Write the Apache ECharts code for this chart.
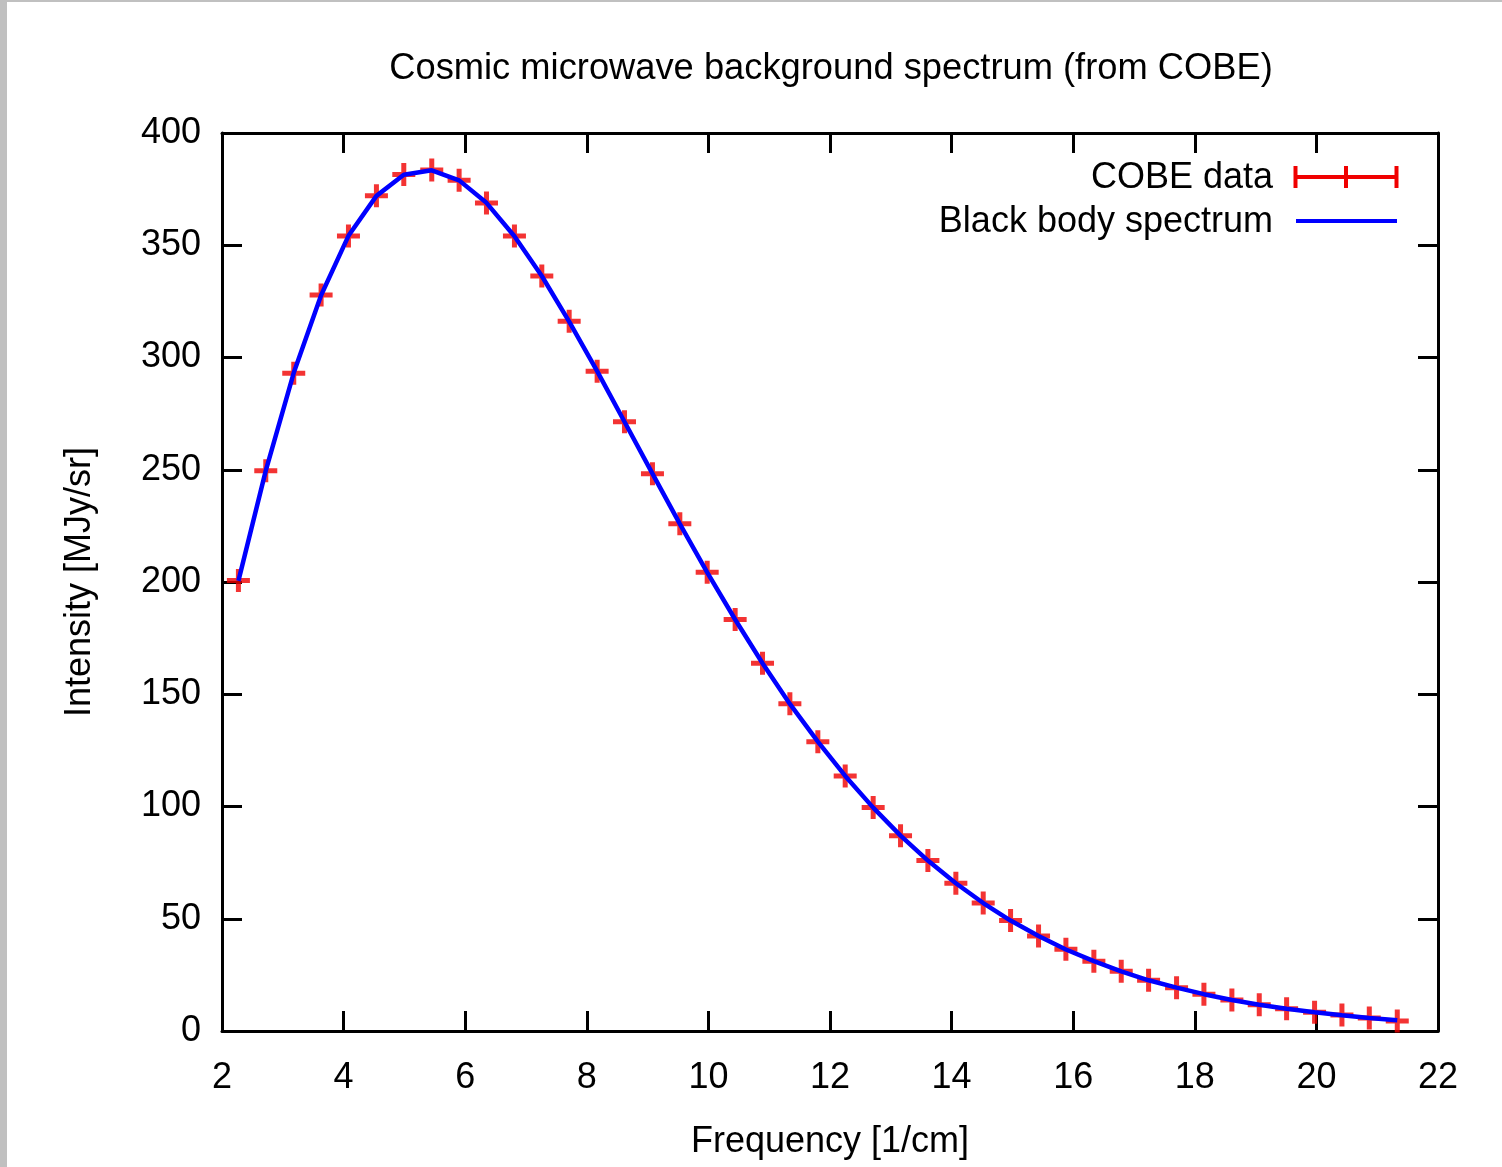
<!DOCTYPE html>
<html>
<head>
<meta charset="utf-8">
<script src="https://cdn.jsdelivr.net/npm/echarts@6/dist/echarts.min.js"></script>
<style>
html,body{margin:0;padding:0;background:#fff;}
#chart{width:1502px;height:1167px;}
</style>
</head>
<body>
<div id="chart"></div>
<script>
// Data
const frequency = [2.27, 2.72, 3.18, 3.63, 4.08, 4.54, 4.99, 5.45, 5.90, 6.35, 6.81, 7.26, 7.71, 8.17, 8.62, 9.08, 9.53, 9.98, 10.44, 10.89, 11.34, 11.80, 12.25, 12.71, 13.16, 13.61, 14.07, 14.52, 14.97, 15.43, 15.88, 16.34, 16.79, 17.24, 17.70, 18.15, 18.61, 19.06, 19.51, 19.97, 20.42, 20.87, 21.33];
const cobeIntensity = [200.7, 249.5, 293.0, 327.8, 354.1, 372.1, 381.5, 383.5, 378.9, 368.8, 354.1, 336.3, 316.1, 293.9, 271.4, 248.2, 225.9, 204.3, 183.3, 163.8, 145.8, 128.8, 113.6, 99.5, 87.0, 75.9, 65.8, 57.0, 49.2, 42.3, 36.4, 31.1, 26.6, 22.6, 19.3, 16.4, 13.8, 11.7, 9.9, 8.4, 7.1, 5.8, 4.5];
const blackbodyIntensity = [200.5, 249.6, 293.2, 327.7, 354.2, 372.0, 381.4, 383.4, 378.9, 368.9, 354.0, 336.3, 316.0, 293.9, 271.4, 248.3, 225.9, 204.3, 183.3, 163.8, 145.7, 128.9, 113.6, 99.5, 87.0, 75.9, 65.8, 57.0, 49.2, 42.3, 36.3, 31.1, 26.6, 22.6, 19.3, 16.4, 13.8, 11.7, 9.9, 8.4, 7.0, 5.8, 4.8];
const xTicks = {min: 2, max: 22, interval: 2};
const yTicks = {min: 0, max: 400, interval: 50};

const FONT = '"Liberation Sans", Arial, sans-serif';
const cobeSeries = frequency.map((f, i) => [f, cobeIntensity[i]]);
const bbSeries = frequency.map((f, i) => [f, blackbodyIntensity[i]]);

const plusPath = 'path://M9,0h5v9h9v5h-9v9h-5v-9h-9v-5h9z';

const axisCommon = {
  type: 'value',
  axisLine: {show: true, onZero: false, lineStyle: {color: '#000', width: 3}},
  axisTick: {show: true, inside: true, length: 20, lineStyle: {color: '#000', width: 3}},
  splitLine: {show: false},
};

const chart = echarts.init(document.getElementById('chart'), null, {renderer: 'canvas'});
chart.setOption({
  animation: false,
  backgroundColor: '#fff',
  title: {
    text: 'Cosmic microwave background spectrum (from COBE)',
    left: 826, top: 46, textAlign: 'center',
    textStyle: {fontFamily: FONT, fontSize: 36.3, fontWeight: 'normal', color: '#000'}
  },
  grid: {left: 222, right: 64, top: 133, bottom: 136, containLabel: false},
  xAxis: [
    Object.assign({}, axisCommon, {
      position: 'bottom', min: xTicks.min, max: xTicks.max, interval: xTicks.interval,
      name: 'Frequency [1/cm]', nameLocation: 'middle', nameGap: 93,
      nameTextStyle: {fontFamily: FONT, fontSize: 36, color: '#000'},
      axisLabel: {fontFamily: FONT, fontSize: 36, color: '#000', margin: 29}
    }),
    Object.assign({}, axisCommon, {
      position: 'top', min: xTicks.min, max: xTicks.max, interval: xTicks.interval,
      axisLabel: {show: false}
    })
  ],
  yAxis: [
    Object.assign({}, axisCommon, {
      position: 'left', min: yTicks.min, max: yTicks.max, interval: yTicks.interval,
      name: 'Intensity [MJy/sr]', nameLocation: 'middle', nameGap: 124,
      nameTextStyle: {fontFamily: FONT, fontSize: 36, color: '#000'},
      axisLabel: {fontFamily: FONT, fontSize: 36, color: '#000', margin: 21, padding: [3, 0, 0, 0]}
    }),
    Object.assign({}, axisCommon, {
      position: 'right', min: yTicks.min, max: yTicks.max, interval: yTicks.interval,
      axisLabel: {show: false}
    })
  ],
  series: [
    {
      name: 'COBE data', type: 'scatter', xAxisIndex: 0, yAxisIndex: 0,
      data: cobeSeries, symbol: plusPath, symbolSize: 23,
      itemStyle: {color: '#f00000'}, z: 2
    },
    {
      name: 'Black body spectrum', type: 'line', xAxisIndex: 0, yAxisIndex: 0,
      data: bbSeries, showSymbol: false, symbol: 'none', smooth: false,
      lineStyle: {color: '#0000ff', width: 4.5}, z: 3
    }
  ],
  graphic: [
    {type: 'rect', shape: {x: 0, y: 0, width: 7, height: 1167}, style: {fill: '#c0c0c0'}, z: 100},
    {type: 'rect', shape: {x: 0, y: 0, width: 1502, height: 2}, style: {fill: '#c0c0c0'}, z: 100},
    {type: 'text', x: 1273, y: 178, style: {text: 'COBE data', font: '36px ' + FONT, fill: '#000', textAlign: 'right', textVerticalAlign: 'middle'}, z: 100},
    {type: 'text', x: 1273, y: 222, style: {text: 'Black body spectrum', font: '36px ' + FONT, fill: '#000', textAlign: 'right', textVerticalAlign: 'middle'}, z: 100},
    {type: 'line', shape: {x1: 1294, y1: 177, x2: 1398, y2: 177}, style: {stroke: '#f00000', lineWidth: 4}, z: 100},
    {type: 'line', shape: {x1: 1295.5, y1: 166, x2: 1295.5, y2: 188}, style: {stroke: '#f00000', lineWidth: 4}, z: 100},
    {type: 'line', shape: {x1: 1346, y1: 166, x2: 1346, y2: 188}, style: {stroke: '#f00000', lineWidth: 4}, z: 100},
    {type: 'line', shape: {x1: 1396.5, y1: 166, x2: 1396.5, y2: 188}, style: {stroke: '#f00000', lineWidth: 4}, z: 100},
    {type: 'line', shape: {x1: 1296, y1: 221, x2: 1397, y2: 221}, style: {stroke: '#0000ff', lineWidth: 4}, z: 100}
  ]
});
</script>
</body>
</html>
